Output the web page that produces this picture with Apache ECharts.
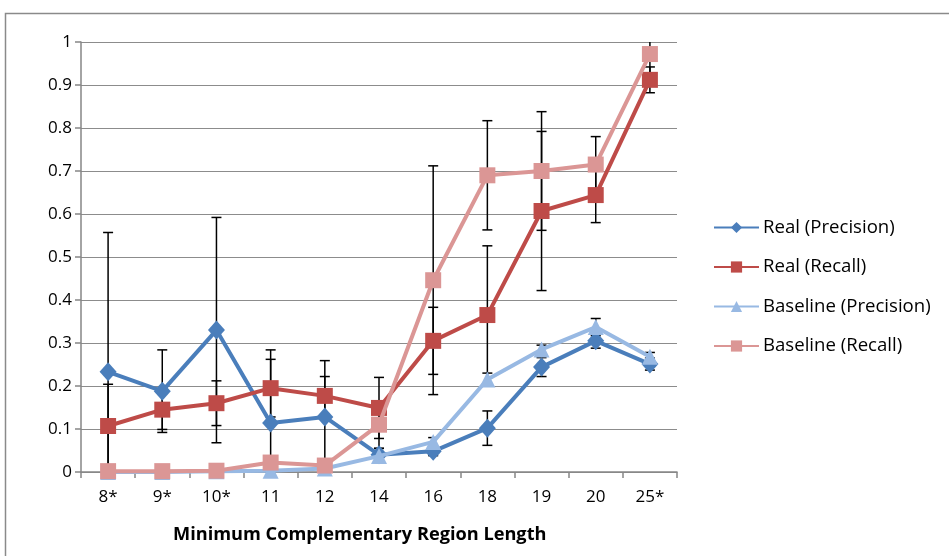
<!DOCTYPE html>
<html><head><meta charset="utf-8">
<script src="https://cdn.jsdelivr.net/npm/echarts@6/dist/echarts.min.js"></script>
<style>html,body{margin:0;padding:0;background:#fff}#c{width:949px;height:556px}</style>
</head><body><div id="c"></div>
<script>
const categories = ['8*','9*','10*','11','12','14','16','18','19','20','25*'];
const realPrecision = [0.233,0.188,0.330,0.114,0.128,0.040,0.048,0.102,0.244,0.305,0.251];
const realPrecisionErr = [0.324,0.096,0.262,0.170,0.131,0.015,0.010,0.040,0.022,0.017,0.014];
const realRecall = [0.107,0.145,0.160,0.195,0.177,0.149,0.305,0.365,0.607,0.644,0.912];
const realRecallErr = [0.097,0.046,0.052,0.067,0.045,0.071,0.078,0.161,0.185,0.064,0.030];
const basePrecision = [0.000,0.000,0.002,0.003,0.008,0.037,0.070,0.215,0.285,0.337,0.268];
const basePrecisionErr = [0,0,0,0,0,0.010,0.010,0.015,0.010,0.020,0.010];
const baseRecall = [0.002,0.002,0.003,0.022,0.015,0.110,0.446,0.690,0.700,0.715,0.972];
const baseRecallErr = [0,0,0,0,0,0.055,0.266,0.127,0.138,0.065,0.070];
const yTicks = ['0','0.1','0.2','0.3','0.4','0.5','0.6','0.7','0.8','0.9','1'];

const FONT = 'Open Sans';
const YMIN = 0, YMAX = 1;
const colors = ['#4A7EBB','#BE4B48','#98B9E3','#DB9695'];

function errData(vals, errs){
  const out = [];
  vals.forEach((v,i)=>{ if(errs[i] > 0) out.push([i, v - errs[i], v + errs[i]]); });
  return out;
}
function errSeries(vals, errs){
  return {
    type:'custom', z:1, silent:true,
    data: errData(vals, errs),
    renderItem: function(params, api){
      const x = api.value(0);
      let lo = api.value(1), hi = api.value(2);
      const loClip = lo < YMIN, hiClip = hi > YMAX;
      lo = Math.max(lo, YMIN); hi = Math.min(hi, YMAX);
      const p1 = api.coord([x, hi]); const p2 = api.coord([x, lo]);
      const st = {stroke:'#000', lineWidth:1.5};
      const ch = [{type:'line', shape:{x1:p1[0],y1:p1[1],x2:p2[0],y2:p2[1]}, style:st}];
      const w = 5;
      if(!hiClip) ch.push({type:'line', shape:{x1:p1[0]-w,y1:p1[1],x2:p1[0]+w,y2:p1[1]}, style:st});
      if(!loClip) ch.push({type:'line', shape:{x1:p2[0]-w,y1:p2[1],x2:p2[0]+w,y2:p2[1]}, style:st});
      return {type:'group', children:ch};
    }
  };
}
function lineSeries(name, vals, color, symbol, size, z){
  return {
    name, type:'line', data: vals, z: z,
    symbol, symbolSize: size,
    lineStyle:{color, width:4},
    itemStyle:{color},
    emphasis:{disabled:true},
    animation:false
  };
}

const chart = echarts.init(document.getElementById('c'), null, {renderer:'canvas'});
chart.setOption({
  animation:false,
  backgroundColor:'#fff',
  textStyle:{fontFamily:FONT},
  grid:{left:81, right:272, top:42, bottom:84, containLabel:false},
  xAxis:{
    type:'category', data:categories, boundaryGap:true,
    axisLine:{lineStyle:{color:'#868686', width:1.5}},
    axisTick:{show:true, length:6, alignWithLabel:false, lineStyle:{color:'#868686', width:1.5}},
    axisLabel:{color:'#000', fontSize:17, fontFamily:FONT, margin:17}
  },
  yAxis:{
    type:'value', min:YMIN, max:YMAX, interval:0.1,
    axisLine:{show:true, lineStyle:{color:'#868686', width:1.5}},
    axisTick:{show:true, length:6, lineStyle:{color:'#868686', width:1.5}},
    splitLine:{lineStyle:{color:'#8c8c8c', width:1.2}},
    axisLabel:{color:'#000', fontSize:17, fontFamily:FONT, margin:9,
      formatter:function(v){ return yTicks[Math.round(v*10)]; }}
  },
  legend:{
    orient:'vertical', left:713, top:218, padding:0, itemGap:20.5, itemWidth:45, itemHeight:14,
    textStyle:{fontSize:18.6, fontFamily:FONT, color:'#000', padding:[0,0,0,-1]},
    data:['Real (Precision)','Real (Recall)','Baseline (Precision)','Baseline (Recall)']
  },
  graphic:[
    {type:'rect', silent:true, z:-1, shape:{x:5.5, y:13.5, width:1200, height:1000},
     style:{fill:null, stroke:'#8a8a8a', lineWidth:1.5}},
    {type:'text', left:173, top:526, silent:true,
     style:{text:'Minimum Complementary Region Length', fontFamily:FONT, fontWeight:'bold', fontSize:18.2, fill:'#000'}}
  ],
  series:[
    errSeries(realPrecision, realPrecisionErr),
    errSeries(realRecall, realRecallErr),
    errSeries(basePrecision, basePrecisionErr),
    errSeries(baseRecall, baseRecallErr),
    lineSeries('Real (Precision)', realPrecision, colors[0], 'diamond', [17,19], 2),
    lineSeries('Real (Recall)', realRecall, colors[1], 'rect', 16, 3),
    lineSeries('Baseline (Precision)', basePrecision, colors[2], 'triangle', 16, 4),
    lineSeries('Baseline (Recall)', baseRecall, colors[3], 'rect', 16, 5)
  ]
});
</script></body></html>
